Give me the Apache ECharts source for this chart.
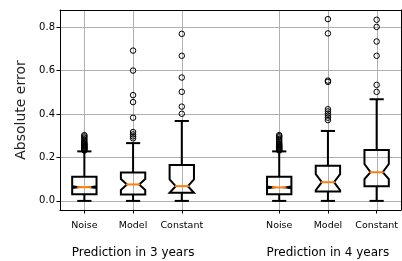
<!DOCTYPE html>
<html>
<head>
<meta charset="utf-8">
<script src="https://cdn.jsdelivr.net/npm/echarts@6/dist/echarts.min.js"></script>
<style>
html,body{margin:0;padding:0;background:#fff;}
#chart{width:402px;height:261px;}
</style>
</head>
<body>
<div id="chart"></div>
<script>
// ---- data ----
const positions = [1, 2, 3, 5, 6, 7];
const categories = ['Noise', 'Model', 'Constant', 'Noise', 'Model', 'Constant'];
const groupPositions = [2, 6];
const groupLabels = ['Prediction in 3 years', 'Prediction in 4 years'];
const yTicks = [0, 0.2, 0.4, 0.6, 0.8];

// box stats: [whislo, q1, cilo, med, cihi, q3, whishi]
const noise3 = [0, 0.031, 0.059, 0.063, 0.067, 0.111, 0.228];
const model3 = [0, 0.0295, 0.050, 0.0757, 0.101, 0.131, 0.266];
const constant3 = [0, 0.037, 0.037, 0.068, 0.099, 0.165, 0.368];
const noise4 = [0, 0.031, 0.058, 0.062, 0.066, 0.111, 0.228];
const model4 = [0, 0.043, 0.049, 0.086, 0.123, 0.1615, 0.322];
const constant4 = [0, 0.068, 0.100, 0.132, 0.170, 0.234, 0.468];

// outliers
const noise3Out = [0.232, 0.235, 0.238, 0.241, 0.244, 0.247, 0.250, 0.253, 0.256, 0.259, 0.262, 0.266, 0.271, 0.277, 0.284, 0.291, 0.297, 0.303];
const model3Out = [0.288, 0.297, 0.306, 0.317, 0.383, 0.455, 0.487, 0.600, 0.692];
const constant3Out = [0.401, 0.434, 0.502, 0.568, 0.668, 0.769];
const noise4Out = [0.232, 0.235, 0.238, 0.241, 0.244, 0.247, 0.250, 0.253, 0.256, 0.260, 0.265, 0.271, 0.278, 0.285, 0.292, 0.298, 0.303];
const model4Out = [0.372, 0.383, 0.393, 0.402, 0.412, 0.422, 0.548, 0.554, 0.771, 0.837];
const constant4Out = [0.502, 0.534, 0.668, 0.734, 0.801, 0.834];

const yMin = -0.0419, yMax = 0.8789;

// ---- build ----
const boxStats = [noise3, model3, constant3, noise4, model4, constant4];
const outliers = [noise3Out, model3Out, constant3Out, noise4Out, model4Out, constant4Out];
const boxData = boxStats.map((s, i) => [positions[i]].concat(s));
const outData = [];
outliers.forEach((arr, i) => arr.forEach(v => outData.push([positions[i], v])));

const FONT = 'DejaVu Sans';
const chart = echarts.init(document.getElementById('chart'), null, {renderer: 'canvas'});

function renderBox(params, api) {
  const x = api.value(0);
  const lo = api.value(1), q1 = api.value(2), cilo = api.value(3), med = api.value(4),
        cihi = api.value(5), q3 = api.value(6), hi = api.value(7);
  const w = api.size([0.5, 0])[0];
  const cx = api.coord([x, 0])[0];
  const Y = v => api.coord([x, v])[1];
  const bl = cx - w / 2, br = cx + w / 2, nl = cx - w / 4, nr = cx + w / 4;
  const blk = {stroke: '#000', lineWidth: 2, fill: null};
  return {
    type: 'group',
    children: [
      {type: 'line', shape: {x1: cx, y1: Y(q1), x2: cx, y2: Y(lo)}, style: blk},
      {type: 'line', shape: {x1: cx, y1: Y(q3), x2: cx, y2: Y(hi)}, style: blk},
      {type: 'line', shape: {x1: nl, y1: Y(lo), x2: nr, y2: Y(lo)}, style: Object.assign({lineCap: 'square'}, blk)},
      {type: 'line', shape: {x1: nl, y1: Y(hi), x2: nr, y2: Y(hi)}, style: Object.assign({lineCap: 'square'}, blk)},
      {type: 'polygon', shape: {points: [
        [bl, Y(q1)], [br, Y(q1)], [br, Y(cilo)], [nr, Y(med)], [br, Y(cihi)], [br, Y(q3)],
        [bl, Y(q3)], [bl, Y(cihi)], [nl, Y(med)], [bl, Y(cilo)]
      ]}, style: {stroke: '#000', lineWidth: 2, fill: null, lineJoin: 'miter'}},
      {type: 'line', shape: {x1: nl, y1: Y(med), x2: nr, y2: Y(med)}, style: {stroke: '#ff7f0e', lineWidth: 2, lineCap: 'square'}}
    ]
  };
}

function renderVGrid(params, api) {
  const x = api.value(0);
  const p1 = api.coord([x, yMin]);
  const p2 = api.coord([x, yMax]);
  const px = Math.round(p1[0]) + 0.5;
  return {type: 'line', shape: {x1: px, y1: p1[1], x2: px, y2: p2[1]}, style: {stroke: '#b0b0b0', lineWidth: 1}};
}

const option = {
  animation: false,
  backgroundColor: '#fff',
  textStyle: {fontFamily: FONT},
  grid: {left: 60, right: 1, top: 10, bottom: 51, containLabel: false},
  xAxis: [
    {
      type: 'value', min: 0.5, max: 7.5, position: 'bottom',
      axisLine: {show: true, onZero: false, lineStyle: {color: '#000', width: 1}},
      axisTick: {show: true, inside: false, length: 3.5, customValues: positions, lineStyle: {color: '#000', width: 1}},
      axisLabel: {show: true, customValues: positions, margin: 11, fontSize: 9.5, color: '#000', fontFamily: FONT,
        formatter: v => categories[positions.indexOf(v)] || ''},
      splitLine: {show: false}
    },
    {
      type: 'value', min: 0.5, max: 7.5, position: 'bottom', offset: 29,
      axisLine: {show: false}, axisTick: {show: false},
      axisLabel: {show: true, customValues: groupPositions, margin: 8, fontSize: 12, color: '#000', fontFamily: FONT,
        formatter: v => groupLabels[groupPositions.indexOf(v)] || ''},
      splitLine: {show: false}
    },
    {
      type: 'value', min: 0.5, max: 7.5, position: 'top', z: 5,
      axisLine: {show: true, onZero: false, lineStyle: {color: '#000', width: 1}},
      axisTick: {show: false}, axisLabel: {show: false}, splitLine: {show: false}
    }
  ],
  yAxis: [
    {
      type: 'value', min: yMin, max: yMax, position: 'left',
      name: 'Absolute error', nameLocation: 'middle', nameRotate: 90, nameGap: 29,
      nameTextStyle: {fontSize: 14, color: '#222', fontFamily: FONT},
      axisLine: {show: true, onZero: false, lineStyle: {color: '#000', width: 1}},
      axisTick: {show: true, inside: false, length: 3.5, customValues: yTicks, lineStyle: {color: '#000', width: 1}},
      axisLabel: {show: true, customValues: yTicks, margin: 5, fontSize: 10, color: '#000', fontFamily: FONT,
        formatter: v => v.toFixed(1)},
      splitLine: {show: true, lineStyle: {color: '#b0b0b0', width: 1}}
    },
    {
      type: 'value', min: yMin, max: yMax, position: 'right', z: 5,
      axisLine: {show: true, onZero: false, lineStyle: {color: '#000', width: 1}},
      axisTick: {show: false}, axisLabel: {show: false}, splitLine: {show: false}
    }
  ],
  series: [
    {
      type: 'custom', xAxisIndex: 0, yAxisIndex: 0, renderItem: renderVGrid,
      data: positions.map(p => [p]), encode: {x: 0}, z: 1, silent: true
    },
    {
      type: 'custom', xAxisIndex: 0, yAxisIndex: 0, renderItem: renderBox,
      data: boxData, encode: {x: 0, y: [1, 2, 3, 4, 5, 6, 7]}, clip: false, z: 3
    },
    {
      type: 'scatter', xAxisIndex: 0, yAxisIndex: 0, data: outData, symbol: 'circle', symbolSize: 5.5,
      itemStyle: {color: 'rgba(0,0,0,0)', borderColor: '#000', borderWidth: 1, opacity: 1}, z: 4, silent: true
    }
  ]
};
chart.setOption(option);
</script>
</body>
</html>
